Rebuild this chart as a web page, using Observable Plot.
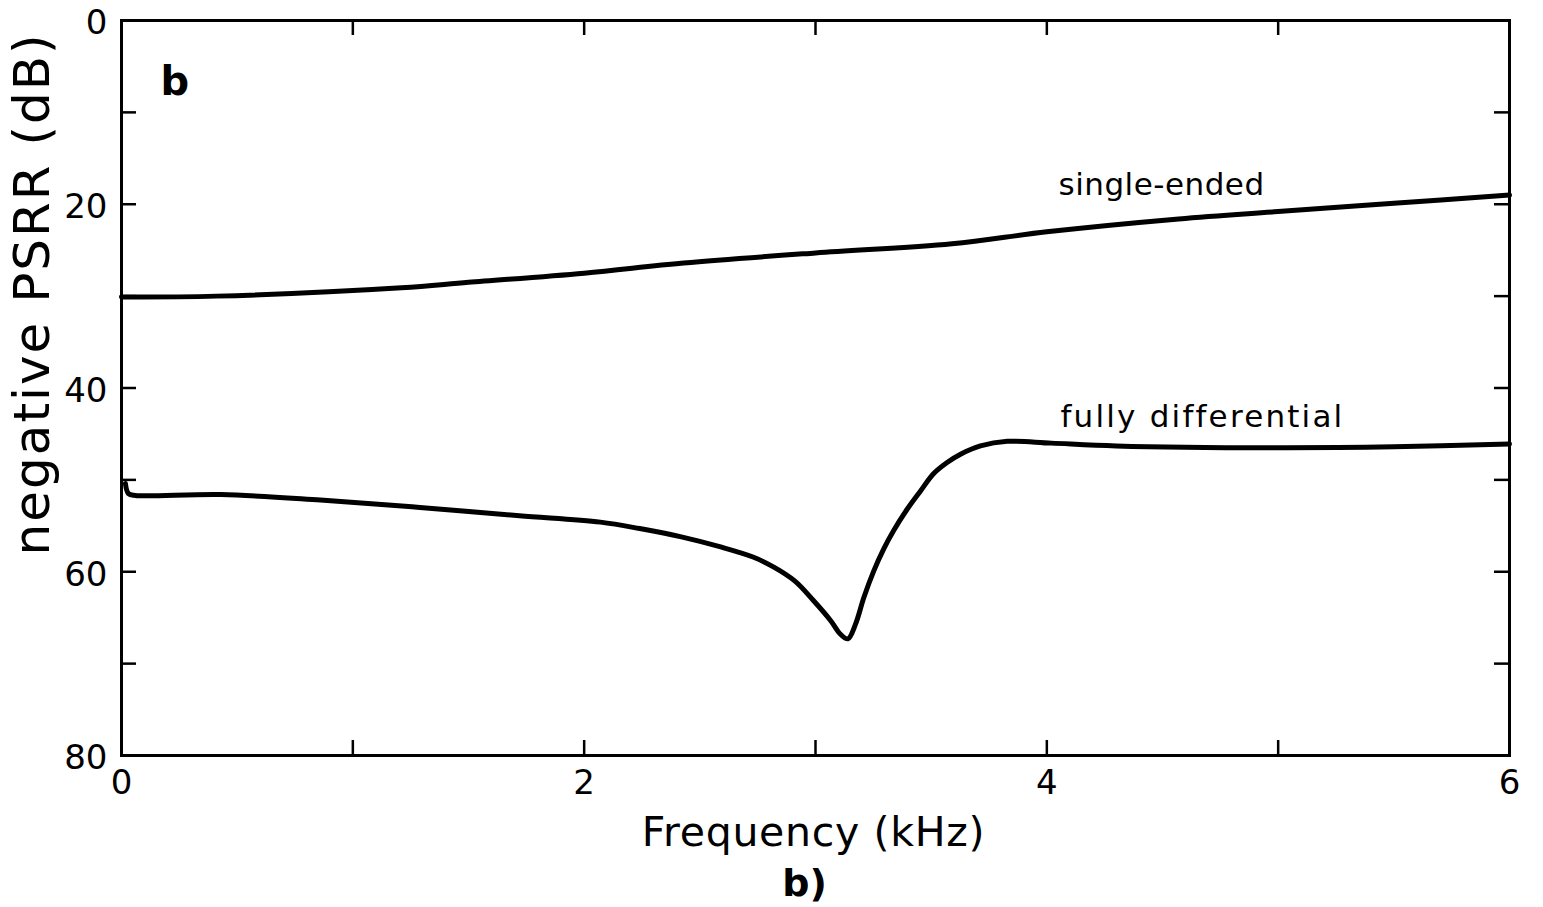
<!DOCTYPE html>
<html>
<head>
<meta charset="utf-8">
<script src="https://cdn.jsdelivr.net/npm/d3@7"></script>
<script src="https://cdn.jsdelivr.net/npm/@observablehq/plot@0.6"></script>
<style>
  html, body { margin: 0; padding: 0; background: #fff; }
  #chart svg { display: block; }
</style>
</head>
<body>
<div id="chart"></div>
<script>
// Single-ended curve (frequency kHz, negative PSRR dB)
const seFreq = [0, 0.41, 1.21, 1.5, 2.0, 2.43, 3.0, 3.59, 4.0, 4.57, 5.0, 5.5, 6.0];
const seDb   = [30.1, 30.0, 29.1, 28.5, 27.5, 26.4, 25.3, 24.3, 23.0, 21.6, 20.8, 19.9, 19.0];

// Fully differential curve
const fdFreq = [0.017, 0.03, 0.06, 0.43, 0.86, 1.29, 1.72, 2.07, 2.24, 2.42, 2.59, 2.73, 2.82, 2.91, 2.99, 3.065, 3.108, 3.14, 3.173, 3.209, 3.252, 3.295, 3.338, 3.396, 3.454, 3.511, 3.569, 3.627, 3.713, 3.829, 4.02, 4.3, 5.0, 5.5, 6.0];
const fdDb   = [50.4, 51.5, 51.7, 51.6, 52.2, 53.0, 53.9, 54.6, 55.3, 56.2, 57.3, 58.4, 59.5, 61.0, 63.1, 65.3, 66.8, 67.3, 65.7, 62.8, 59.9, 57.5, 55.5, 53.2, 51.2, 49.3, 48.1, 47.2, 46.3, 45.8, 46.0, 46.3, 46.5, 46.4, 46.1];

// Ticks and labels
const xTicks = [0, 1, 2, 3, 4, 5, 6];
const xTickLabels = [0, 2, 4, 6];
const yTicks = [0, 10, 20, 30, 40, 50, 60, 70, 80];
const yTickLabels = [0, 20, 40, 60, 80];

const seriesLabels = ["single-ended", "fully differential"];
const panelLabel = "b";
const xTitle = "Frequency (kHz)";
const yTitle = "negative PSRR (dB)";
const caption = "b)";

const se = seFreq.map((f, i) => ({f, db: seDb[i]}));
const fd = fdFreq.map((f, i) => ({f, db: fdDb[i]}));

const W = 1543, H = 907;
const mL = 121, mR = 34, mT = 20, mB = 152;
const frameW = W - mL - mR, frameH = H - mT - mB;
const tickLen = 15;
const font = "DejaVu Sans";

const chart = Plot.plot({
  width: W,
  height: H,
  marginLeft: mL,
  marginRight: mR,
  marginTop: mT,
  marginBottom: mB,
  style: {fontFamily: font, background: "#fff", color: "#000"},
  x: {domain: [0, 6]},
  y: {domain: [0, 80], reverse: true},
  marks: [
    Plot.frame({stroke: "#000", strokeWidth: 3}),
    // inward ticks bottom & top
    Plot.tickX(xTicks, {x: d => d, insetTop: frameH - tickLen, strokeWidth: 2.5}),
    Plot.tickX(xTicks, {x: d => d, insetBottom: frameH - tickLen, strokeWidth: 2.5}),
    // inward ticks left & right
    Plot.tickY(yTicks, {y: d => d, insetRight: frameW - tickLen, strokeWidth: 2.5}),
    Plot.tickY(yTicks, {y: d => d, insetLeft: frameW - tickLen, strokeWidth: 2.5}),
    Plot.axisX(xTickLabels, {anchor: "bottom", tickSize: 0, tickPadding: 14, fontSize: 34, tickFormat: d3.format("d"), label: null, fill: "#000"}),
    Plot.axisY(yTickLabels, {anchor: "left", tickSize: 0, tickPadding: 14, fontSize: 34, tickFormat: d3.format("d"), dy: 3, label: null, fill: "#000"}),
    Plot.line(se, {x: "f", y: "db", curve: "catmull-rom", stroke: "#000", strokeWidth: 5, strokeLinejoin: "round", strokeLinecap: "round"}),
    Plot.line(fd, {x: "f", y: "db", curve: "catmull-rom", stroke: "#000", strokeWidth: 5, strokeLinejoin: "round", strokeLinecap: "round"}),
    Plot.text([seriesLabels[0]], {frameAnchor: "top-left", dx: 937, dy: 165, text: d => d, textAnchor: "start", lineAnchor: "middle", fontSize: 31, fill: "#000"}),
    Plot.text([seriesLabels[1]], {frameAnchor: "top-left", dx: 939, dy: 397, text: d => d, textAnchor: "start", lineAnchor: "middle", fontSize: 31, fill: "#000"}),
    Plot.text([panelLabel], {frameAnchor: "top-left", dx: 39, dy: 62, text: d => d, textAnchor: "start", lineAnchor: "middle", fontSize: 40, fontWeight: "bold", fill: "#000"}),
    Plot.text([xTitle], {frameAnchor: "bottom", dx: -2, dy: 77, text: d => d, textAnchor: "middle", lineAnchor: "middle", fontSize: 41, fill: "#000"}),
    Plot.text([caption], {frameAnchor: "bottom", dx: -11, dy: 128, text: d => d, textAnchor: "middle", lineAnchor: "middle", fontSize: 38, fontWeight: "bold", fill: "#000"}),
    Plot.text([yTitle], {frameAnchor: "left", dx: -89, dy: -94, rotate: -90, text: d => d, textAnchor: "middle", lineAnchor: "middle", fontSize: 50, fill: "#000"})
  ]
});

document.getElementById("chart").appendChild(chart);

// letter spacing to mimic the original lettering
const spacing = {"single-ended": 0.5, "fully differential": 2.2, "Frequency (kHz)": 0.7, "negative PSRR (dB)": 2};
d3.select(chart).selectAll("text").each(function() {
  const t = this.textContent;
  if (spacing[t] !== undefined) this.setAttribute("letter-spacing", spacing[t]);
});
</script>
</body>
</html>
